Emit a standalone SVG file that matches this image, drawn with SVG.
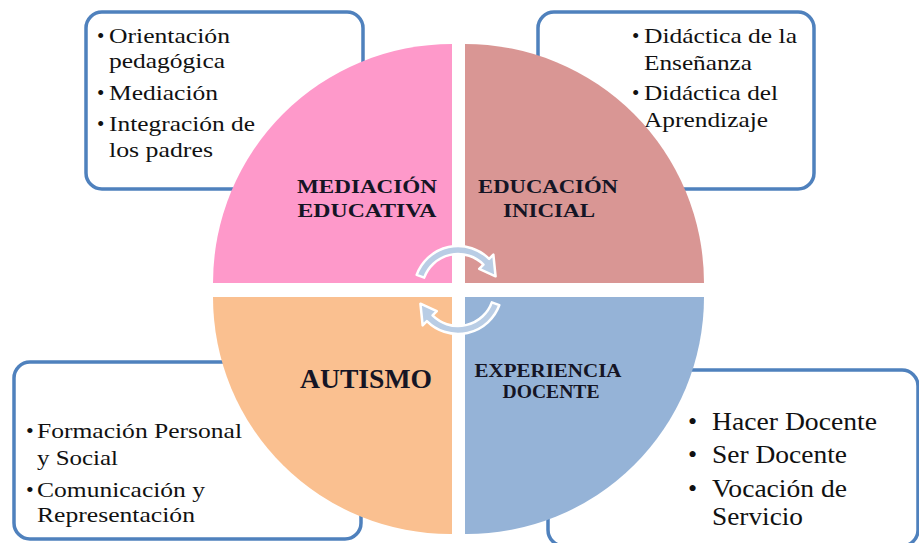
<svg xmlns="http://www.w3.org/2000/svg" width="919" height="543" viewBox="0 0 919 543">
<style>
.box{fill:#fff;stroke:#4f81bd;stroke-width:3.5}
.bt{font-family:"Liberation Serif","Times New Roman",serif;fill:#111}
.lb{font-family:"Liberation Serif","Times New Roman",serif;font-weight:bold;fill:#151525;text-anchor:middle}
.arr{fill:#b9cde5;stroke:#fff;stroke-width:2.5;stroke-linejoin:round}
</style>
<rect width="919" height="543" fill="#fff"/>
<g id="box-tl">
<rect class="box" x="86" y="12" width="277" height="177" rx="16"/>
<g class="bt" font-size="21">
<text x="97" y="43">•</text><text x="109" y="43" textLength="121" lengthAdjust="spacingAndGlyphs">Orientación</text>
<text x="109" y="68" textLength="116" lengthAdjust="spacingAndGlyphs">pedagógica</text>
<text x="97" y="100">•</text><text x="109" y="100" textLength="109" lengthAdjust="spacingAndGlyphs">Mediación</text>
<text x="97" y="131">•</text><text x="109" y="131" textLength="146" lengthAdjust="spacingAndGlyphs">Integración de</text>
<text x="109" y="157" textLength="104" lengthAdjust="spacingAndGlyphs">los padres</text>
</g>
</g>
<g id="box-tr">
<rect class="box" x="538" y="12" width="276" height="177" rx="16"/>
<g class="bt" font-size="21">
<text x="632" y="43">•</text><text x="644" y="43" textLength="153" lengthAdjust="spacingAndGlyphs">Didáctica de la</text>
<text x="644" y="70" textLength="108" lengthAdjust="spacingAndGlyphs">Enseñanza</text>
<text x="632" y="100">•</text><text x="644" y="100" textLength="134" lengthAdjust="spacingAndGlyphs">Didáctica del</text>
<text x="644" y="127" textLength="124" lengthAdjust="spacingAndGlyphs">Aprendizaje</text>
</g>
</g>
<g id="box-bl">
<rect class="box" x="14" y="362" width="347" height="177" rx="16"/>
<g class="bt" font-size="22">
<text x="26" y="438">•</text><text x="37" y="438" textLength="205" lengthAdjust="spacingAndGlyphs">Formación Personal</text>
<text x="37" y="465" textLength="81" lengthAdjust="spacingAndGlyphs">y Social</text>
<text x="26" y="497">•</text><text x="37" y="497" textLength="168" lengthAdjust="spacingAndGlyphs">Comunicación y</text>
<text x="37" y="522" textLength="158" lengthAdjust="spacingAndGlyphs">Representación</text>
</g>
</g>
<g id="box-br">
<rect class="box" x="548" y="370" width="370" height="176" rx="16"/>
<g class="bt" font-size="26">
<text x="688" y="430">•</text><text x="712" y="430" textLength="165" lengthAdjust="spacingAndGlyphs">Hacer Docente</text>
<text x="688" y="463">•</text><text x="712" y="463" textLength="135" lengthAdjust="spacingAndGlyphs">Ser Docente</text>
<text x="688" y="497">•</text><text x="712" y="497" textLength="135" lengthAdjust="spacingAndGlyphs">Vocación de</text>
<text x="712" y="525" textLength="91" lengthAdjust="spacingAndGlyphs">Servicio</text>
</g>
</g>
<g id="q-mediacion">
<path d="M452 283 L213 283 A239 239 0 0 1 452 44 Z" fill="#fe99ca"/>
<text class="lb" x="367" y="193" font-size="18" textLength="140" lengthAdjust="spacingAndGlyphs">MEDIACIÓN</text>
<text class="lb" x="367" y="217" font-size="18" textLength="139" lengthAdjust="spacingAndGlyphs">EDUCATIVA</text>
</g>
<g id="q-educacion">
<path d="M465 283 L465 44 A239 239 0 0 1 704 283 Z" fill="#d99694"/>
<text class="lb" x="548" y="193" font-size="18" textLength="140" lengthAdjust="spacingAndGlyphs">EDUCACIÓN</text>
<text class="lb" x="549" y="217" font-size="18" textLength="92" lengthAdjust="spacingAndGlyphs">INICIAL</text>
</g>
<g id="q-autismo">
<path d="M452 297 L452 534 A237 237 0 0 1 213 297 Z" fill="#fac090"/>
<text class="lb" x="366" y="388" font-size="28" textLength="132" lengthAdjust="spacingAndGlyphs">AUTISMO</text>
</g>
<g id="q-experiencia">
<path d="M465 297 L704 297 A237 237 0 0 1 465 534 Z" fill="#95b3d7"/>
<text class="lb" x="548" y="377" font-size="18" textLength="147" lengthAdjust="spacingAndGlyphs">EXPERIENCIA</text>
<text class="lb" x="551" y="398" font-size="18" textLength="97" lengthAdjust="spacingAndGlyphs">DOCENTE</text>
</g>
<g id="connectors">
<path class="arr" d="M416.65 274.95 A44 44 0 0 1 489.11 258.89 L493.36 254.64 L495.59 276.32 L479.21 268.79 L483.46 264.54 A36 36 0 0 0 424.17 277.69 Z"/>
<path class="arr" transform="rotate(180 458 290)" d="M416.65 274.95 A44 44 0 0 1 489.11 258.89 L493.36 254.64 L495.59 276.32 L479.21 268.79 L483.46 264.54 A36 36 0 0 0 424.17 277.69 Z"/>
</g>
</svg>
